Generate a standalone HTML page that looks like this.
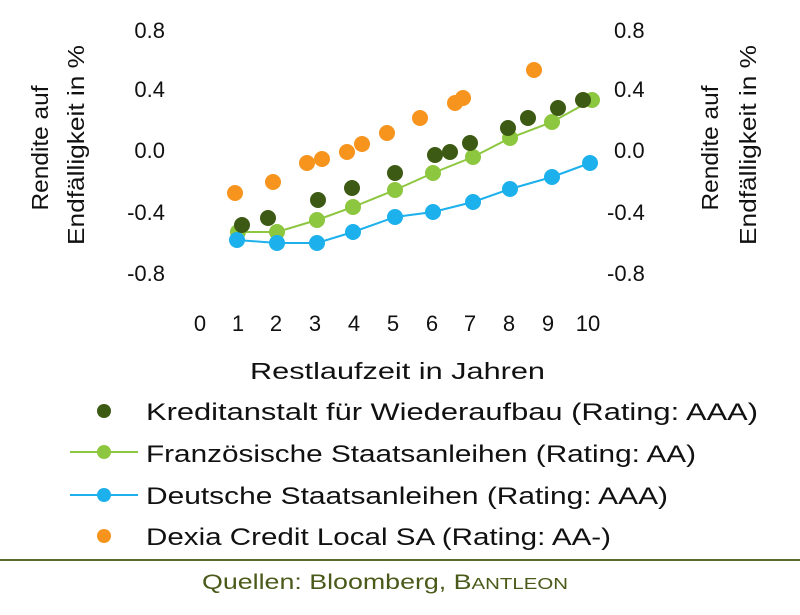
<!DOCTYPE html>
<html><head><meta charset="utf-8"><style>
body{margin:0;background:#fff;}
text{font-family:"Liberation Sans",sans-serif;fill:#111;}
</style></head><body>
<svg width="800" height="610" viewBox="0 0 800 610" xmlns="http://www.w3.org/2000/svg">
<g font-size="22" text-anchor="end">
<text x="165" y="38">0.8</text><text x="165" y="97">0.4</text><text x="165" y="158">0.0</text><text x="165" y="220">-0.4</text><text x="165" y="281">-0.8</text>
</g>
<g font-size="22" text-anchor="start">
<text x="614" y="38">0.8</text><text x="614" y="97">0.4</text><text x="614" y="158">0.0</text><text x="607" y="220">-0.4</text><text x="607" y="281">-0.8</text>
</g>
<g font-size="23" text-anchor="middle">
<text transform="translate(48,148) rotate(-90)" textLength="125" lengthAdjust="spacingAndGlyphs">Rendite auf</text>
<text transform="translate(84,145) rotate(-90)" textLength="200" lengthAdjust="spacingAndGlyphs">Endfälligkeit in %</text>
<text transform="translate(718,148) rotate(-90)" textLength="125" lengthAdjust="spacingAndGlyphs">Rendite auf</text>
<text transform="translate(756,145) rotate(-90)" textLength="200" lengthAdjust="spacingAndGlyphs">Endfälligkeit in %</text>
</g>
<g font-size="22" text-anchor="middle">
<text x="200" y="331">0</text><text x="238" y="331">1</text><text x="276" y="331">2</text><text x="315" y="331">3</text><text x="354" y="331">4</text><text x="393" y="331">5</text><text x="432" y="331">6</text><text x="470" y="331">7</text><text x="509" y="331">8</text><text x="548" y="331">9</text><text x="588" y="331">10</text>
</g>
<text x="250" y="379" font-size="23" textLength="295" lengthAdjust="spacingAndGlyphs">Restlaufzeit in Jahren</text>
<g fill="#f7941d">
<circle cx="235" cy="193" r="8"/><circle cx="273" cy="182" r="8"/><circle cx="307" cy="163" r="8"/><circle cx="322" cy="159" r="8"/><circle cx="347" cy="152" r="8"/><circle cx="362" cy="144" r="8"/><circle cx="387" cy="133" r="8"/><circle cx="420" cy="118" r="8"/><circle cx="455" cy="103" r="8"/><circle cx="463" cy="98" r="8"/><circle cx="534" cy="70" r="8"/>
</g>
<polyline fill="none" stroke="#8dc63f" stroke-width="2" points="238,232 277,232 317,220 353,207 395,190 433,173 473,157 510,138 552,122 592,100"/>
<g fill="#8dc63f">
<circle cx="238" cy="232" r="8"/><circle cx="277" cy="232" r="8"/><circle cx="317" cy="220" r="8"/><circle cx="353" cy="207" r="8"/><circle cx="395" cy="190" r="8"/><circle cx="433" cy="173" r="8"/><circle cx="473" cy="157" r="8"/><circle cx="510" cy="138" r="8"/><circle cx="552" cy="122" r="8"/><circle cx="592" cy="100" r="8"/>
</g>
<polyline fill="none" stroke="#1cb0ec" stroke-width="2" points="237,240 277,243 317,243 353,232 395,217 433,212 473,202 510,189 552,177 590,163"/>
<g fill="#1cb0ec">
<circle cx="237" cy="240" r="8"/><circle cx="277" cy="243" r="8"/><circle cx="317" cy="243" r="8"/><circle cx="353" cy="232" r="8"/><circle cx="395" cy="217" r="8"/><circle cx="433" cy="212" r="8"/><circle cx="473" cy="202" r="8"/><circle cx="510" cy="189" r="8"/><circle cx="552" cy="177" r="8"/><circle cx="590" cy="163" r="8"/>
</g>
<g fill="#3d5a14">
<circle cx="242" cy="225" r="8"/><circle cx="268" cy="218" r="8"/><circle cx="318" cy="200" r="8"/><circle cx="352" cy="188" r="8"/><circle cx="395" cy="173" r="8"/><circle cx="435" cy="155" r="8"/><circle cx="450" cy="152" r="8"/><circle cx="470" cy="143" r="8"/><circle cx="508" cy="128" r="8"/><circle cx="528" cy="118" r="8"/><circle cx="558" cy="108" r="8"/><circle cx="583" cy="100" r="8"/>
</g>
<g font-size="24">
<circle cx="104" cy="411" r="7" fill="#3d5a14"/>
<text x="146" y="420" textLength="612" lengthAdjust="spacingAndGlyphs">Kreditanstalt für Wiederaufbau (Rating: AAA)</text>
<line x1="70" y1="452" x2="138" y2="452" stroke="#8dc63f" stroke-width="2"/>
<circle cx="104" cy="452" r="7" fill="#8dc63f"/>
<text x="146" y="462" textLength="550" lengthAdjust="spacingAndGlyphs">Französische Staatsanleihen (Rating: AA)</text>
<line x1="70" y1="495" x2="138" y2="495" stroke="#1cb0ec" stroke-width="2"/>
<circle cx="104" cy="495" r="7" fill="#1cb0ec"/>
<text x="146" y="504" textLength="522" lengthAdjust="spacingAndGlyphs">Deutsche Staatsanleihen (Rating: AAA)</text>
<circle cx="104" cy="536" r="7" fill="#f7941d"/>
<text x="146" y="545" textLength="465" lengthAdjust="spacingAndGlyphs">Dexia Credit Local SA (Rating: AA-)</text>
</g>
<line x1="0" y1="560" x2="800" y2="560" stroke="#5a6a2a" stroke-width="2"/>
<text x="202" y="589" font-size="21" textLength="366" lengthAdjust="spacingAndGlyphs" style="fill:#4a5a1a">Quellen: Bloomberg, B<tspan font-size="16">ANTLEON</tspan></text>
</svg>
</body></html>
